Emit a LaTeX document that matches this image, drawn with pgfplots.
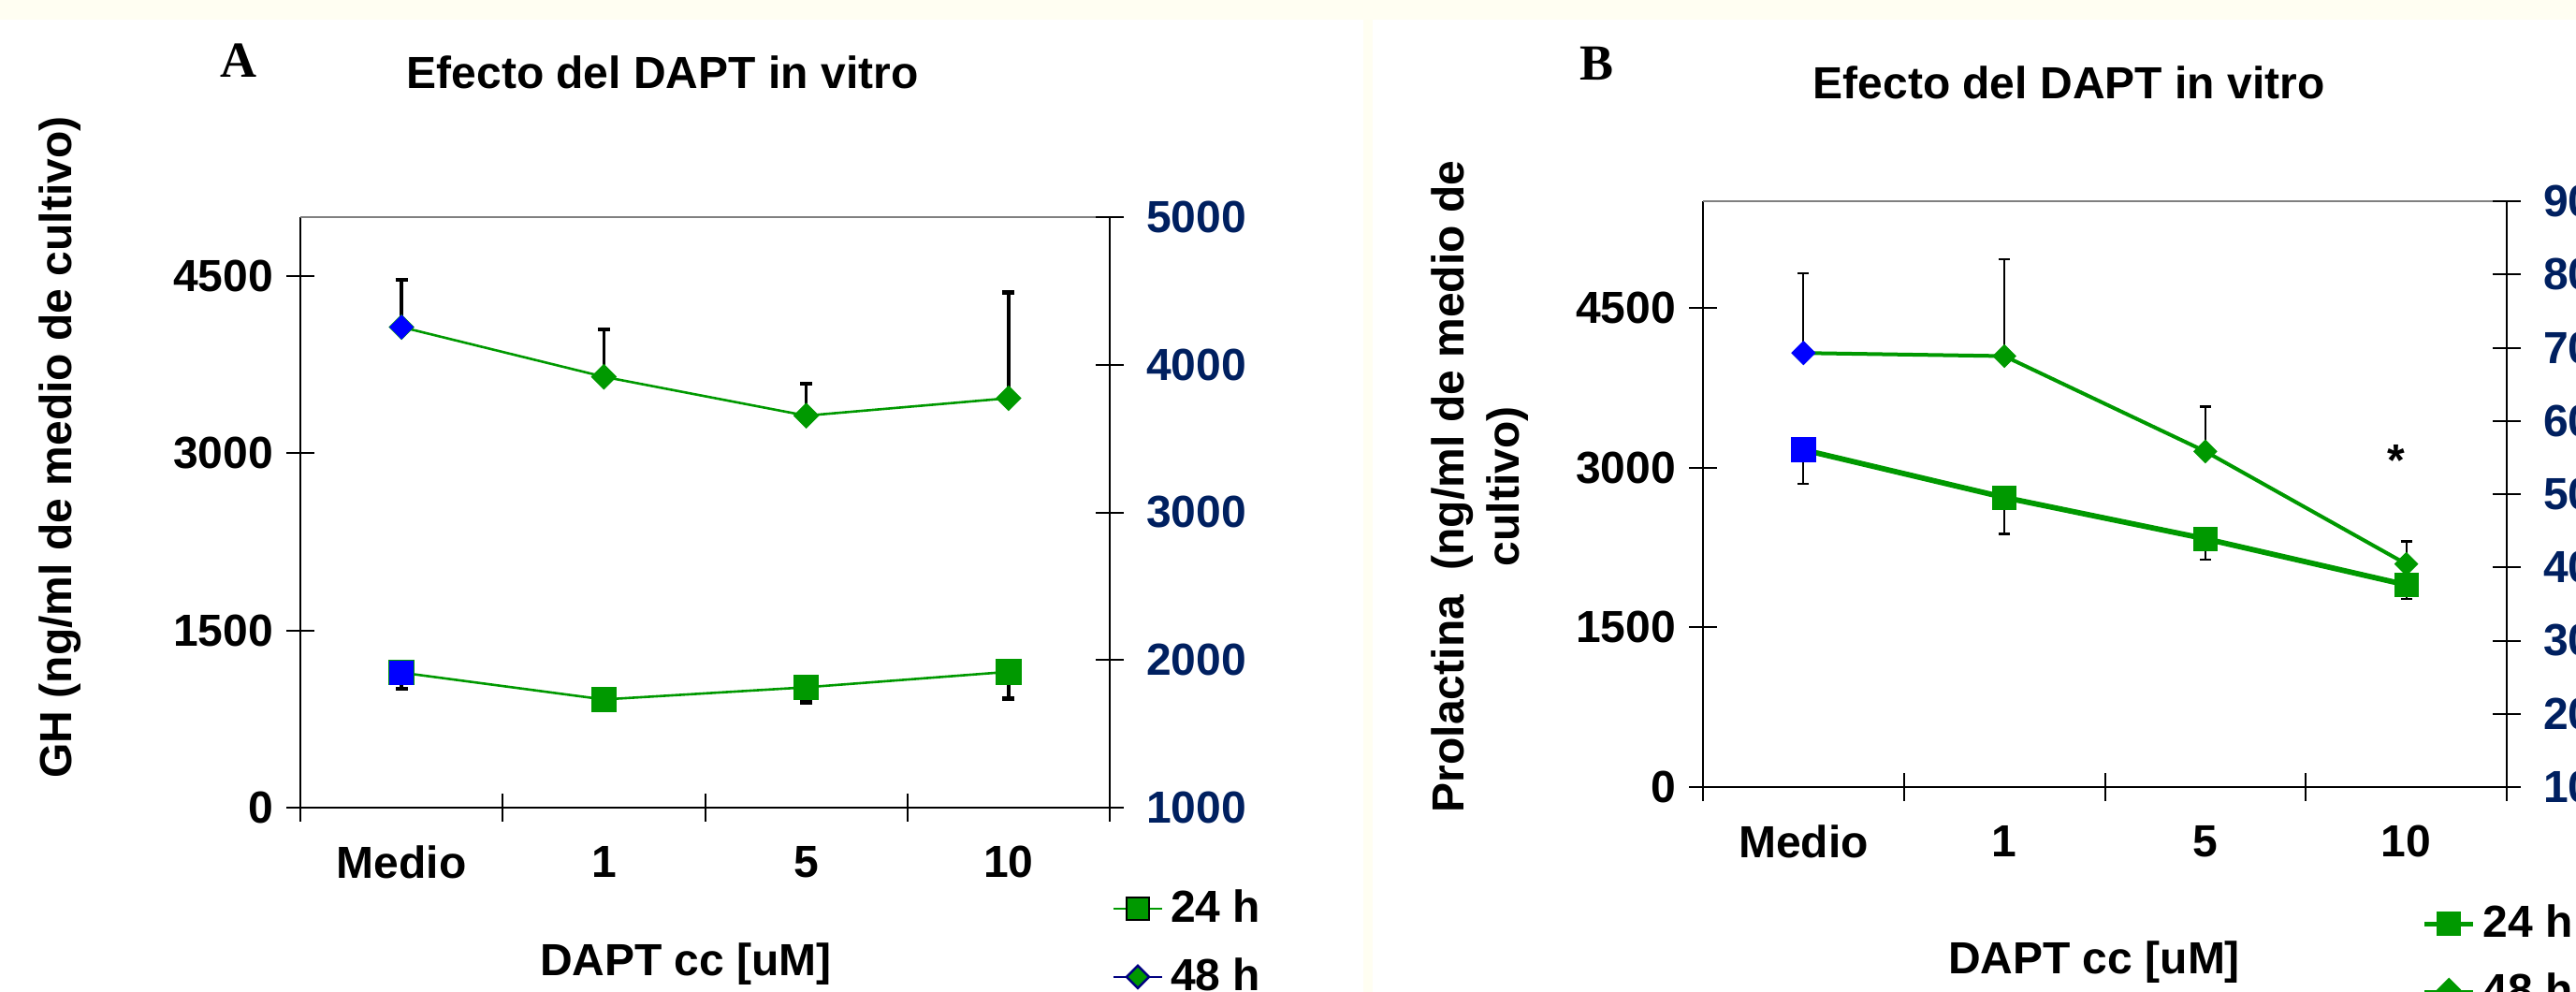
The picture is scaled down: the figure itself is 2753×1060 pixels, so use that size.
\documentclass[border=0pt]{standalone}
\usepackage{fontspec}
\setmainfont{Liberation Sans}
\newfontfamily\timesf{Liberation Serif}
\usepackage{pgfplots}
\pgfplotsset{compat=1.18}

\definecolor{xlgreen}{RGB}{0,153,0}
\definecolor{xlblue}{RGB}{0,0,255}
\definecolor{xlnavy}{RGB}{0,32,96}
\definecolor{legnavy}{RGB}{0,0,128}
\definecolor{cream}{RGB}{255,254,242}
\definecolor{framegray}{RGB}{128,128,128}

\newcommand{\lbl}{\fontsize{12}{14}\selectfont\bfseries}

\pgfplotsset{
  xlbase/.style={
    scale only axis, anchor=south west,
    xmin=0.5, xmax=4.5,
    axis x line*=bottom, axis y line*=left,
    axis line style={black, line width=0.5pt},
    tick align=center, major tick length=7.5pt,
    tick style={black, line width=0.5pt},
    xtick={0.5,1.5,2.5,3.5,4.5}, xticklabels={},
    extra x ticks={1,2,3,4}, extra x tick labels={Medio,1,5,10},
    extra x tick style={tick style={draw=none}},
    tick label style={font=\lbl},
    xticklabel style={yshift=-3pt},
    /pgf/number format/assume math mode=true,
    /pgf/number format/1000 sep={},
    scaled ticks=false, clip=false,
    legend style={draw=none, fill=none, inner sep=0pt, font=\lbl,
      row sep=4pt, legend cell align=left},
    legend image code/.code={\draw[mark repeat=2, mark phase=2, ##1]
      plot coordinates {(0pt,0pt) (6.5pt,0pt) (13pt,0pt)};},
  },
  xlright/.style={
    scale only axis, anchor=south west,
    xmin=0, xmax=1,
    axis x line=none, axis y line*=right,
    axis line style={black, line width=0.5pt},
    tick align=center, major tick length=7.5pt,
    tick style={black, line width=0.5pt},
    yticklabel style={font=\lbl, color=xlnavy, xshift=2.5pt},
    /pgf/number format/assume math mode=true,
    /pgf/number format/1000 sep={},
    scaled ticks=false,
  },
}

% Panel A: GH
\pgfplotstableread{
x y e
1 1143 138
2 916 60
3 1019 126
4 1150 226
}\ghtwentyfour
\pgfplotstableread{
x y e
1 4069 398
2 3648 401
3 3319 270
4 3467 895
}\ghfortyeight

% Panel B: Prolactina
\pgfplotstableread{
x y e
1 3166 321
2 2719 344
3 2331 196
4 1898 133
}\prltwentyfour
\pgfplotstableread{
x y e
1 4075 751
2 4046 912
3 3151 422
4 2094 211
}\prlfortyeight

\begin{document}
\begin{tikzpicture}[x=0.25pt, y=0.25pt]
\fill[cream] (0,0) rectangle (2753,1060);
\fill[white] (0,0) rectangle (1457,1039);
\fill[white] (1467,0) rectangle (2753,1039);

% ---------- A ----------
\begin{axis}[xlbase, at={(80.25pt,49.25pt)}, width=216.25pt, height=157.75pt,
  ymin=0, ymax=5000, ytick={0,1500,3000,4500},
  legend style={at={(1.0023,-0.125)}, anchor=north west},
]
\draw[framegray, line width=0.5pt] (rel axis cs:0,1) -- (rel axis cs:1,1);
\addplot[xlgreen, line width=0.65pt, mark=square*, mark size=3.1pt,
  mark options={fill=xlgreen, draw=xlgreen}, forget plot,
  error bars/.cd, y dir=minus, y explicit, error mark=|,
  error bar style={black, line width=0.9pt},
  error mark options={black, mark size=1.6pt, line width=1.1pt}]
  table[x=x, y=y, y error=e] {\ghtwentyfour};
\addplot[xlgreen, line width=0.65pt, mark=diamond*, mark size=3pt,
  mark options={fill=xlgreen, draw=xlgreen, xscale=1.33}, forget plot,
  error bars/.cd, y dir=plus, y explicit, error mark=|,
  error bar style={black, line width=0.9pt},
  error mark options={black, mark size=1.6pt, line width=1.1pt}]
  table[x=x, y=y, y error=e] {\ghfortyeight};
\addplot[only marks, mark=square*, mark size=3.1pt, mark options={fill=xlblue, draw=xlblue}, forget plot]
  coordinates {(1,1143)};
\addplot[only marks, mark=diamond*, mark size=3pt, mark options={fill=xlblue, draw=xlblue, xscale=1.33}, forget plot]
  coordinates {(1,4069)};
\addlegendimage{xlgreen, line width=0.6pt, mark=square*, mark size=3pt,
  mark options={fill=xlgreen, draw=black, line width=0.6pt}}
\addlegendentry{24 h}
\addlegendimage{legnavy, line width=0.6pt, mark=diamond*, mark size=3pt,
  mark options={fill=xlgreen, draw=legnavy, xscale=1.33}}
\addlegendentry{48 h}
\end{axis}
\begin{axis}[xlright, at={(80.25pt,49.25pt)}, width=216.25pt, height=157.75pt,
  ymin=1000, ymax=5000, ytick={1000,2000,3000,4000,5000}]
\end{axis}

% ---------- B ----------
\begin{axis}[xlbase, at={(455pt,54.75pt)}, width=214.75pt, height=156.5pt,
  ymin=0, ymax=5500, ytick={0,1500,3000,4500},
  legend style={at={(0.894,-0.187)}, anchor=north west},
]
\draw[framegray, line width=0.5pt] (rel axis cs:0,1) -- (rel axis cs:1,1);
\addplot[xlgreen, line width=1.45pt, mark=square*, mark size=3.1pt,
  mark options={solid, fill=xlgreen, draw=xlgreen, line width=0.3pt}, forget plot,
  error bars/.cd, y dir=minus, y explicit, error mark=|,
  error bar style={black, line width=0.5pt},
  error mark options={black, mark size=1.5pt, line width=0.6pt}]
  table[x=x, y=y, y error=e] {\prltwentyfour};
\addplot[xlgreen, line width=1pt, mark=diamond*, mark size=3pt,
  mark options={fill=xlgreen, draw=xlgreen, xscale=1.33, line width=0.3pt}, forget plot,
  error bars/.cd, y dir=plus, y explicit, error mark=|,
  error bar style={black, line width=0.5pt},
  error mark options={black, mark size=1.5pt, line width=0.6pt}]
  table[x=x, y=y, y error=e] {\prlfortyeight};
\addplot[only marks, mark=square*, mark size=3.1pt, mark options={fill=xlblue, draw=xlblue}, forget plot]
  coordinates {(1,3166)};
\addplot[only marks, mark=diamond*, mark size=3pt, mark options={fill=xlblue, draw=xlblue, xscale=1.33}, forget plot]
  coordinates {(1,4075)};
\node[font=\lbl] at (axis cs:3.95,3070) {*};
\addlegendimage{xlgreen, line width=1.2pt, mark=square*, mark size=3.1pt,
  mark options={fill=xlgreen, draw=xlgreen, line width=0.3pt}}
\addlegendentry{24 h}
\addlegendimage{xlgreen, line width=1.2pt, mark=diamond*, mark size=3pt,
  mark options={fill=xlgreen, draw=xlgreen, xscale=1.33}}
\addlegendentry{48 h}
\end{axis}
\begin{axis}[xlright, at={(455pt,54.75pt)}, width=214.75pt, height=156.5pt,
  ymin=1000, ymax=9000, ytick={1000,2000,...,9000}]
\end{axis}

% titles and labels
\node[font=\lbl] at (708,983) {Efecto del DAPT in vitro};
\node[font=\lbl] at (2211,972) {Efecto del DAPT in vitro};
\node[font=\timesf\fontsize{13.5}{15}\selectfont\bfseries] at (255,995) {A};
\node[font=\timesf\fontsize{13.5}{15}\selectfont\bfseries] at (1706,992) {B};
\node[font=\lbl, rotate=90] at (64,582) {GH (ng/ml de medio de cultivo)};
\node[font=\fontsize{12}{14.75}\selectfont\bfseries, rotate=90, align=center]
  at (1582,540) {Prolactina\ \ (ng/ml de medio de\\cultivo)};
\node[font=\lbl] at (733,30) {DAPT cc [uM]};
\node[font=\lbl] at (2238,32) {DAPT cc [uM]};

\pgfresetboundingbox
\path[use as bounding box] (0,0) rectangle (2753,1060);
\end{tikzpicture}
\end{document}
